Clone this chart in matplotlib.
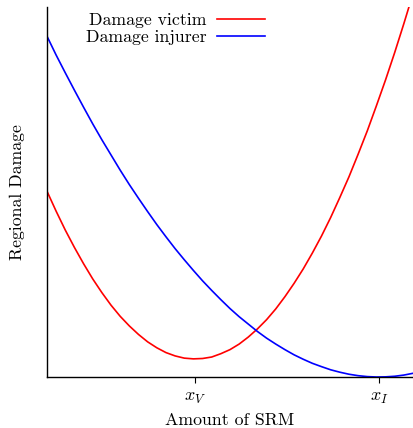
import matplotlib
matplotlib.use("Agg")
import matplotlib.pyplot as plt

plt.rcParams['font.family'] = ['cmr10', 'DejaVu Serif']
plt.rcParams['mathtext.fontset'] = 'cm'
plt.rcParams['axes.unicode_minus'] = False

# Values (arbitrary units)
x_vals = [0.0, 0.25, 0.5, 0.75, 1.0, 1.25, 1.5, 1.75, 2.0, 2.25, 2.5, 2.75,
          3.0, 3.25, 3.5, 3.75, 4.0, 4.25, 4.5, 4.75, 5.0, 5.25, 5.5, 5.75,
          6.0, 6.25, 6.5, 6.75, 7.0, 7.25, 7.5, 7.75, 8.0, 8.25, 8.5, 8.75,
          9.0, 9.25, 9.5, 9.75, 10.0]
victim = [5.02, 4.48, 3.97, 3.50, 3.06, 2.65, 2.28, 1.94, 1.64, 1.38, 1.15, 0.95,
          0.79, 0.66, 0.57, 0.51, 0.49, 0.50, 0.54, 0.63, 0.74, 0.89, 1.08, 1.30,
          1.55, 1.84, 2.17, 2.53, 2.92, 3.35, 3.81, 4.31, 4.85, 5.41, 6.02, 6.65,
          7.33, 8.03, 8.77, 9.55, 10.36]
injurer = [9.21, 8.70, 8.22, 7.75, 7.29, 6.84, 6.41, 6.00, 5.59, 5.20, 4.83, 4.47,
           4.12, 3.79, 3.47, 3.17, 2.88, 2.60, 2.34, 2.09, 1.85, 1.63, 1.43, 1.23,
           1.05, 0.89, 0.74, 0.60, 0.48, 0.37, 0.28, 0.195, 0.13, 0.075, 0.036, 0.011,
           0.0, 0.004, 0.02, 0.052, 0.10]
tick_pos = [4.04, 9.07]
tick_labels = [r'$x_V$', r'$x_I$']
series_labels = ['Damage victim', 'Damage injurer']

fig = plt.figure(figsize=(4.13, 4.28), dpi=100)
ax = fig.add_axes([47/413, 51/428, 366/413, 370/428])

ax.plot(x_vals, victim, color='#ff0000', lw=1.2, label=series_labels[0])
ax.plot(x_vals, injurer, color='#0000ff', lw=1.2, label=series_labels[1])

ax.set_xlim(0, 10)
ax.set_ylim(0, 10)
ax.spines['top'].set_visible(False)
ax.spines['right'].set_visible(False)
ax.spines['left'].set_linewidth(1.0)
ax.spines['bottom'].set_linewidth(1.0)
ax.set_yticks([])
ax.set_xticks(tick_pos)
ax.set_xticklabels(tick_labels, fontsize=13)
ax.tick_params(axis='x', length=4, width=0.8, pad=5.5)
ax.set_xlabel('Amount of SRM', fontsize=12.8, labelpad=5)
ax.set_ylabel('Regional Damage', fontsize=12.8, labelpad=16)

leg = ax.legend(loc='upper left', bbox_to_anchor=(0.086, 1.003), frameon=False,
                markerfirst=False, fontsize=12.8, handlelength=2.7,
                labelspacing=0.08, handletextpad=0.6, borderaxespad=0.0)

fig.savefig('out.png', dpi=100)
